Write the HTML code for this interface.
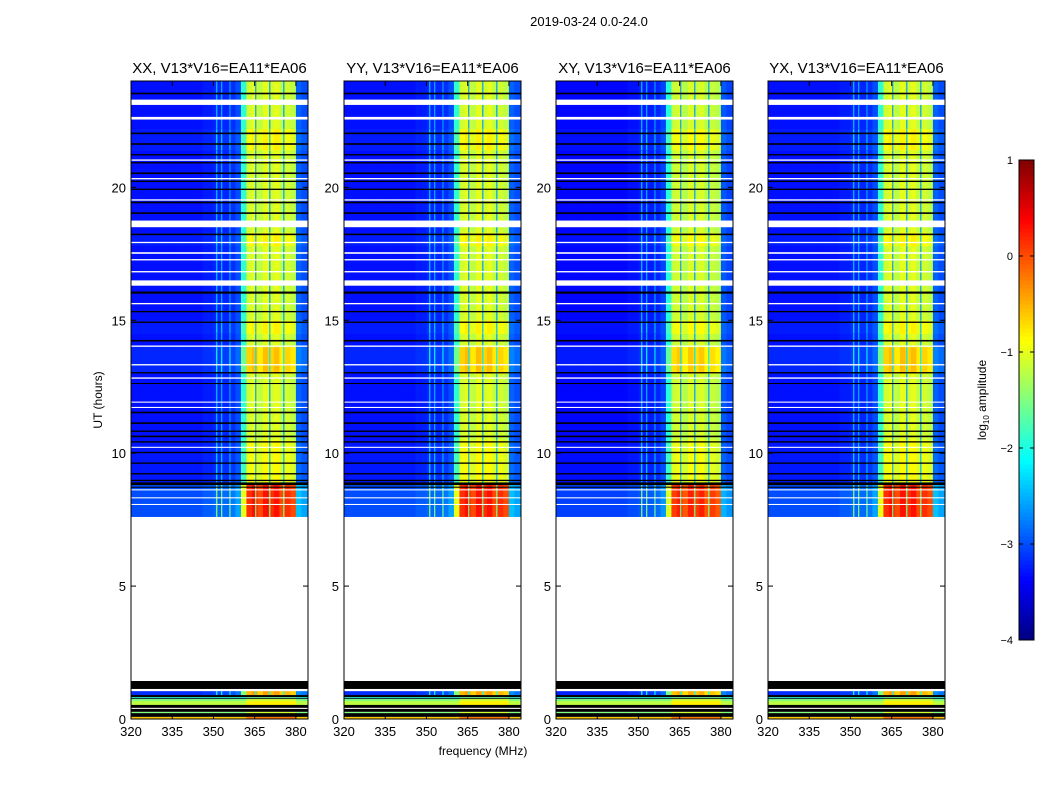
<!DOCTYPE html>
<html><head><meta charset="utf-8">
<style>
body{margin:0;background:#fff;}
svg text{font-family:"Liberation Sans",sans-serif;fill:#000;}
</style></head>
<body>
<svg id="fig" width="1050" height="800" viewBox="0 0 1050 800" xmlns="http://www.w3.org/2000/svg">
<rect width="1050" height="800" fill="#fff"/>
<text x="589" y="26" font-size="13" text-anchor="middle">2019-03-24 0.0-24.0</text>
<text x="483" y="755" font-size="12" text-anchor="middle">frequency (MHz)</text>
<text transform="translate(102,400) rotate(-90)" font-size="12" text-anchor="middle">UT (hours)</text>
<g id="panels"></g>
<g id="cbar"></g>
</svg>
<script>
// ---- data ----
const panelTitles = ["XX, V13*V16=EA11*EA06","YY, V13*V16=EA11*EA06","XY, V13*V16=EA11*EA06","YX, V13*V16=EA11*EA06"];
const panelOffset = [0, 0, -0.05, 0];
// base log10 amplitude per 2 MHz channel bin starting at 320 MHz
const baseProfile = [-3.3,-3.3,-3.3,-3.3,-3.3,-3.3,-3.3,-3.3,-3.3,-3.3,-3.3,-3.3,-3.3,-3.25,-3.25,
  -3.2,-3.2,-3.2,-3.15,-3.0,-1.9,
  -1.1,-1.0,-1.2,-1.0,-1.1,-1.0,-1.2,-1.1,-1.2,
  -2.9,-3.0,-3.0];
const binStart = 320, binWidth = 2;
// narrow features [freq MHz, value]
const lineFreqs = [351.2, 353.0, 356.0, 365.4, 370.5, 375.6];
const lineVals  = [-2.4, -2.5, -2.6, -2.6, -2.6, -2.6];
// data segments [t0, t1, gain]
const dataSegs = [[7.6,8.9,1.3],[8.9,10.5,0.15],[10.5,13,0],[13,14,0.45],[14,14.5,0],[14.5,15,0.2],[15,17.8,0],[17.8,18.3,0.2],[18.3,21.4,0],[21.4,22.2,0.2],[22.2,24,0],[0.9,1.05,0.6]];
// uniform low-time segments [t0, t1, level]
const flatSegs = [[0,0.08,-0.6],[0.22,0.27,-1.5],[0.53,0.68,-1.2],[0.68,0.75,-1.5],[0.78,0.82,-2.0]];
// black (empty) rows [t0,t1]
const blackSegs = [[1.13,1.43],[0.75,0.78],[0.82,0.9],[0.27,0.53],[0.08,0.22],
  [23.5,23.56],[22.0,22.06],[21.6,21.66],[21.2,21.25],[20.9,20.95],[20.5,20.56],[20.2,20.25],[19.9,19.95],[19.4,19.46],[19.0,19.06],
  [18.2,18.26],[16.0,16.08],[15.3,15.35],[14.9,14.95],[14.2,14.26],[13.0,13.05],[12.6,12.64],[11.5,11.56],[11.1,11.16],[10.8,10.85],
  [10.6,10.66],[10.4,10.45],[10.0,10.05],[9.6,9.65],[9.2,9.25],[8.95,9.0],[8.8,8.9],[8.7,8.74]];
// flagged (white) rows [t0,t1]
const whiteSegs = [[1.43,7.6],[1.05,1.1],[0.38,0.42],[23.1,23.3],[22.55,22.65],[21.0,21.05],[20.3,20.35],[19.5,19.55],[18.5,18.75],[17.9,17.95],
  [17.5,17.56],[17.25,17.3],[16.8,16.85],[16.3,16.5],[15.6,15.65],[14.0,14.05],[13.3,13.35],[12.8,12.85],[11.9,11.94],[11.7,11.74],
  [10.2,10.24],[8.6,8.64],[8.3,8.34],[8.05,8.09]];
const xTicks = [320,335,350,365,380];
const yTicks = [0,5,10,15,20];
const cbTicks = [1,0,-1,-2,-3,-4];

// ---- layout ----
const NS="http://www.w3.org/2000/svg";
const px0=[131,344,556,768], pw=177, pTop=81, pBot=719;
const fMin=320, fMax=384.4, tMin=0, tMax=24, vMin=-4, vMax=1;
function mk(tag,attrs,parent){const e=document.createElementNS(NS,tag);for(const k in attrs)e.setAttribute(k,attrs[k]);parent.appendChild(e);return e;}
function jet(v){let t=(v-vMin)/(vMax-vMin);t=Math.max(0,Math.min(1,t));
  const f=x=>Math.max(0,Math.min(1,x));
  const r=f(1.5-Math.abs(4*t-3)),g=f(1.5-Math.abs(4*t-2)),b=f(1.5-Math.abs(4*t-1));
  return `rgb(${Math.round(r*255)},${Math.round(g*255)},${Math.round(b*255)})`;}
const panelsG=document.getElementById('panels');
panelTitles.forEach((title,p)=>{
  const x0=px0[p];
  const X=f=>x0+(f-fMin)/(fMax-fMin)*pw;
  const Y=t=>pBot-(t-tMin)/(tMax-tMin)*(pBot-pTop);
  const g=mk('g',{},panelsG);
  
  
  const clip=mk('clipPath',{id:'c'+p},g);mk('rect',{x:x0,y:pTop,width:pw,height:pBot-pTop},clip);
  const hm=mk('g',{'clip-path':'url(#c'+p+')'},g);
  
  
  dataSegs.forEach(s=>{
    const y1=Y(s[1]),y0=Y(s[0]);
    baseProfile.forEach((b,i)=>{
      const base=b+panelOffset[p];
      const v=base+s[2]*(base+4)/3;
      const fa=binStart+i*binWidth;
      const r=mk('rect',{x:X(fa),y:y1,width:X(fa+binWidth)-X(fa)+0.3,height:y0-y1+0.3,fill:jet(v)},hm);
      
      
    });
    lineFreqs.forEach((lf,j)=>{
      const v=lineVals[j]+s[2]*0.8;
      const r=mk('rect',{x:X(lf)-0.6,y:y1,width:1.2,height:y0-y1,fill:jet(v)},hm);
      
      
    });
  });
  flatSegs.forEach(s=>{
    const y1=Y(s[1]),y0=Y(s[0]);
    baseProfile.forEach((b,i)=>{
      const v=s[2]+(b>-1.5?0.4:0);
      const fa=binStart+i*binWidth;
      const r=mk('rect',{x:X(fa),y:y1,width:X(fa+binWidth)-X(fa)+0.3,height:y0-y1+0.2,fill:jet(v)},hm);
      
      
    });
  });
  blackSegs.forEach(s=>{
    const r=mk('rect',{x:x0,y:Y(s[1]),width:pw,height:Y(s[0])-Y(s[1]),fill:'#000'},hm);
    
    
  });
  whiteSegs.forEach(s=>{
    const r=mk('rect',{x:x0,y:Y(s[1]),width:pw,height:Y(s[0])-Y(s[1]),fill:'#fff'},hm);
    
    
  });
  const fr=mk('rect',{x:x0,y:pTop,width:pw,height:pBot-pTop,fill:'none',stroke:'#000','stroke-width':1},g);
  
  
  const tt=mk('text',{x:x0+pw/2,y:73,'font-size':15,'text-anchor':'middle'},g);tt.textContent=title;
  
  
  xTicks.forEach(v=>{
    const x=X(v);
    mk('line',{x1:x,x2:x,y1:pBot,y2:pBot-5,stroke:'#000'},g);
    mk('line',{x1:x,x2:x,y1:pTop,y2:pTop+5,stroke:'#000'},g);
    const t=mk('text',{x:x,y:736,'font-size':13,'text-anchor':'middle'},g);t.textContent=v;
    
    
  });
  yTicks.forEach(v=>{
    const y=Y(v);
    mk('line',{x1:x0,x2:x0+5,y1:y,y2:y,stroke:'#000'},g);
    mk('line',{x1:x0+pw,x2:x0+pw-5,y1:y,y2:y,stroke:'#000'},g);
    const t=mk('text',{x:x0-5,y:y+5,'font-size':13,'text-anchor':'end'},g);t.textContent=v;
    
    
  });
});
// colorbar
const cb=document.getElementById('cbar');


const cx=1019,cw=15,cTop=160,cBot=640;
const CY=v=>cBot-(v-vMin)/(vMax-vMin)*(cBot-cTop);
for(let i=0;i<120;i++){const v0=vMin+i*(vMax-vMin)/120,v1=vMin+(i+1)*(vMax-vMin)/120;
  mk('rect',{x:cx,y:CY(v1),width:cw,height:CY(v0)-CY(v1)+0.5,fill:jet((v0+v1)/2)},cb);}
mk('rect',{x:cx,y:cTop,width:cw,height:cBot-cTop,fill:'none',stroke:'#000'},cb);
cbTicks.forEach(v=>{const y=CY(v);
  mk('line',{x1:cx,x2:cx+4,y1:y,y2:y,stroke:'#000'},cb);
  mk('line',{x1:cx+cw,x2:cx+cw-4,y1:y,y2:y,stroke:'#000'},cb);
  const t=mk('text',{x:1013,y:y+4,'font-size':11,'text-anchor':'end'},cb);t.textContent=(v<0?'\u2212'+(-v):v);
  
  
});
const cl=mk('text',{transform:'translate(986,400) rotate(-90)','font-size':12,'text-anchor':'middle'},cb);
cl.innerHTML='log<tspan font-size="8" dy="3">10</tspan><tspan dy="-3"> amplitude</tspan>';


</script>
</body></html>
